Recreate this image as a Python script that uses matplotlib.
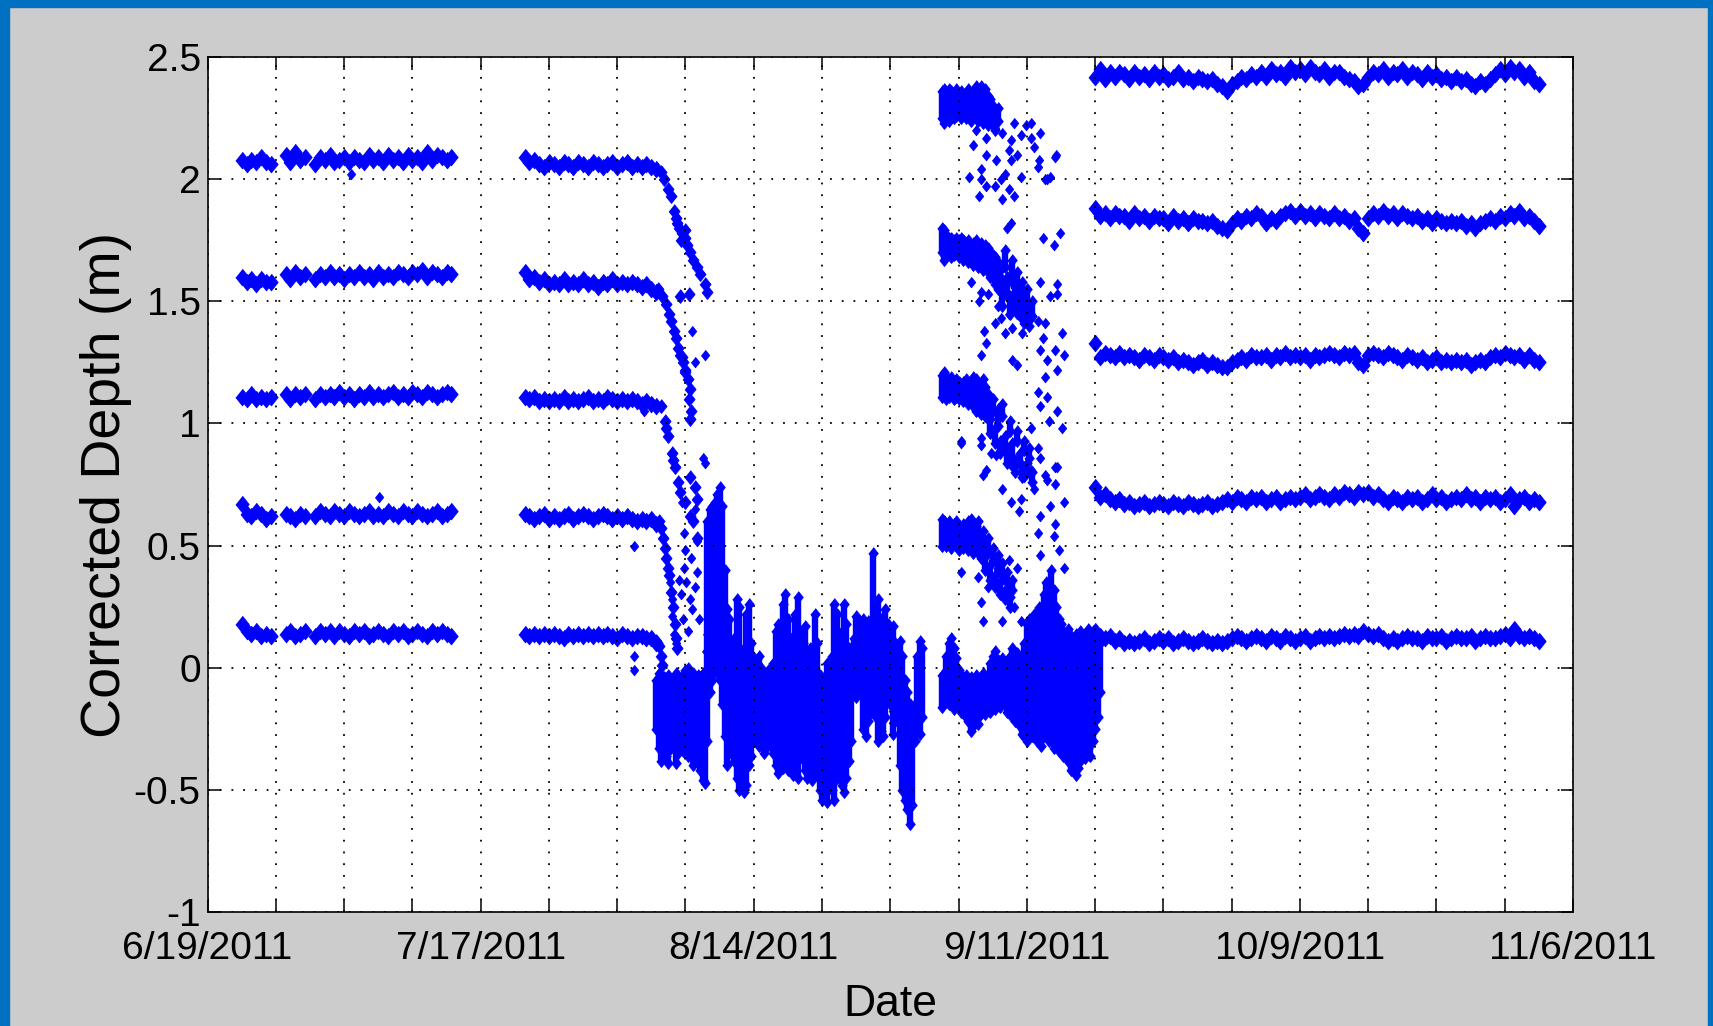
import numpy as np
import matplotlib
matplotlib.use("Agg")
import matplotlib.pyplot as plt
from matplotlib import font_manager as fm
from matplotlib.patches import Rectangle
from matplotlib.ticker import FixedLocator, FixedFormatter, MultipleLocator

# ------------------------------------------------------------------
# DATA  (x = days since 6/19/2011, y = corrected depth in m)
# ------------------------------------------------------------------
xtick_days = [0, 28, 56, 84, 112, 140]
xtick_labels = ["6/19/2011", "7/17/2011", "8/14/2011", "9/11/2011", "10/9/2011", "11/6/2011"]
ytick_vals = [-1, -0.5, 0, 0.5, 1, 1.5, 2, 2.5]
ytick_labels = ["-1", "-0.5", "0", "0.5", "1", "1.5", "2", "2.5"]

# Segment 1 (sensor string, late June - mid July), half-day samples
s1_days = np.concatenate([np.arange(3.5, 6.51, 0.5), np.arange(8.0, 10.01, 0.5),
                          np.arange(11.0, 25.01, 0.5)])
s1_b1 = [2.08, 2.06, 2.08, 2.07, 2.09, 2.07, 2.06, 2.10, 2.07, 2.11, 2.08, 2.09,
         2.06, 2.09, 2.08, 2.10, 2.07, 2.08, 2.09, 2.07, 2.09, 2.08, 2.07, 2.10, 2.08, 2.09,
         2.07, 2.10, 2.08, 2.09, 2.07, 2.10, 2.08, 2.09, 2.07, 2.11, 2.08, 2.10, 2.09, 2.08, 2.09]
s1_b2 = [1.60, 1.58, 1.59, 1.57, 1.59, 1.58, 1.58, 1.61, 1.59, 1.62, 1.60, 1.61,
         1.59, 1.61, 1.60, 1.62, 1.60, 1.61, 1.59, 1.61, 1.60, 1.62, 1.60, 1.61, 1.59, 1.62,
         1.60, 1.61, 1.60, 1.62, 1.61, 1.60, 1.62, 1.61, 1.63, 1.60, 1.62, 1.61, 1.60, 1.62, 1.61]
s1_b3 = [1.11, 1.10, 1.12, 1.10, 1.11, 1.10, 1.11, 1.12, 1.10, 1.12, 1.11, 1.12,
         1.10, 1.12, 1.11, 1.12, 1.11, 1.13, 1.11, 1.12, 1.10, 1.12, 1.11, 1.13, 1.11, 1.12,
         1.11, 1.12, 1.13, 1.11, 1.12, 1.11, 1.13, 1.12, 1.11, 1.13, 1.12, 1.11, 1.12, 1.13, 1.12]
s1_b4 = [0.67, 0.63, 0.62, 0.64, 0.63, 0.61, 0.62, 0.63, 0.62, 0.61, 0.63, 0.62,
         0.62, 0.64, 0.63, 0.62, 0.64, 0.63, 0.62, 0.64, 0.63, 0.62, 0.63, 0.64, 0.62, 0.63,
         0.62, 0.64, 0.63, 0.62, 0.64, 0.63, 0.62, 0.64, 0.63, 0.62, 0.63, 0.64, 0.62, 0.63, 0.64]
s1_b5 = [0.18, 0.15, 0.14, 0.15, 0.13, 0.14, 0.13, 0.14, 0.15, 0.13, 0.14, 0.15,
         0.13, 0.15, 0.14, 0.15, 0.13, 0.15, 0.14, 0.13, 0.15, 0.14, 0.15, 0.13, 0.14, 0.15,
         0.14, 0.13, 0.15, 0.14, 0.15, 0.13, 0.14, 0.15, 0.14, 0.13, 0.15, 0.14, 0.15, 0.14, 0.13]

# Segment 2 (late July - early August, flat part), half-day samples
s2_days = np.arange(32.5, 46.01, 0.5)
s2_b1 = [2.09, 2.07, 2.08, 2.06, 2.05, 2.07, 2.06, 2.05, 2.07, 2.06, 2.05, 2.07, 2.06, 2.05,
         2.07, 2.06, 2.05, 2.06, 2.07, 2.05, 2.06, 2.07, 2.05, 2.06, 2.05, 2.06, 2.05, 2.04]
s2_b2 = [1.62, 1.59, 1.60, 1.58, 1.59, 1.57, 1.58, 1.57, 1.59, 1.57, 1.58, 1.57, 1.59, 1.57,
         1.58, 1.56, 1.58, 1.57, 1.59, 1.57, 1.58, 1.57, 1.58, 1.57, 1.56, 1.57, 1.55, 1.54]
s2_b3 = [1.11, 1.10, 1.11, 1.09, 1.10, 1.09, 1.10, 1.09, 1.11, 1.09, 1.10, 1.09, 1.10, 1.11,
         1.09, 1.10, 1.09, 1.11, 1.10, 1.09, 1.10, 1.09, 1.10, 1.09, 1.08, 1.09, 1.08, 1.07]
s2_b4 = [0.63, 0.62, 0.61, 0.62, 0.63, 0.61, 0.62, 0.61, 0.62, 0.63, 0.61, 0.62, 0.63, 0.62,
         0.61, 0.62, 0.63, 0.62, 0.61, 0.62, 0.61, 0.62, 0.61, 0.60, 0.61, 0.60, 0.61, 0.59]
s2_b5 = [0.14, 0.13, 0.14, 0.13, 0.14, 0.13, 0.14, 0.13, 0.12, 0.14, 0.13, 0.14, 0.13, 0.14,
         0.13, 0.14, 0.13, 0.14, 0.13, 0.12, 0.14, 0.13, 0.12, 0.13, 0.13, 0.12, 0.12, 0.10]

# Collapse of the sensor string: band readings during the drop (mid August)
drop_days = [46.5, 46.8, 47.2, 47.5, 47.8, 48.0, 48.3, 48.6, 48.9, 49.2, 49.5, 49.8, 50.2, 50.5,
             51.0, 51.2, 49.4, 48.4, 48.1, 48.5, 49.0,
             46.2, 46.6, 47.0, 47.3, 47.5, 47.8, 48.0, 48.2, 48.4, 48.7, 49.0, 49.3, 49.5, 49.4,
             49.6, 49.5, 48.6, 48.9,
             46.5, 46.9, 47.2, 47.6, 47.9, 48.2, 48.4, 49.0, 49.5, 50.0, 50.2, 49.5, 49.8, 50.2,
             47.0, 47.7,
             46.3, 46.7, 47.0, 47.3, 47.5, 47.7, 47.9, 48.0, 48.1, 46.5, 46.9, 47.2,
             46.0, 46.3, 46.5, 46.6]
drop_vals = [2.03, 2.00, 1.96, 1.93, 1.87, 1.84, 1.80, 1.78, 1.76, 1.73, 1.70, 1.67, 1.64, 1.61,
             1.57, 1.54, 1.53, 1.52, 1.82, 1.75, 1.79,
             1.55, 1.52, 1.49, 1.45, 1.42, 1.38, 1.35, 1.31, 1.28, 1.25, 1.22, 1.18, 1.14, 1.10,
             1.05, 1.02, 1.27, 1.21,
             1.07, 1.01, 0.95, 0.88, 0.82, 0.76, 0.72, 0.68, 0.78, 0.74, 0.69, 0.62, 0.60, 0.53,
             0.98, 0.85,
             0.60, 0.53, 0.45, 0.38, 0.31, 0.25, 0.18, 0.12, 0.08, 0.57, 0.49, 0.41,
             0.11, 0.09, 0.05, 0.01]

# Isolated readings (outliers and scattered points around the collapse)
odd_days = [14.7, 17.6, 43.7, 43.7, 43.7, 44.7, 49.7, 51.0, 50.0, 50.8, 51.0,
            48.6, 48.8, 49.0, 48.8, 49.1, 49.5, 49.7, 50.0, 50.2, 50.2, 47.4, 47.6, 47.6, 47.8,
            48.0, 48.3, 51.2, 51.1, 48.5, 49.6, 50.0, 48.7, 49.3, 50.4]
odd_vals = [2.02, 0.70, 0.50, 0.05, -0.01, 1.05, 1.38, 1.28, 1.25, 0.86, 0.84,
            0.68, 0.55, 0.48, 0.41, 0.35, 0.28, 0.24, 0.65, 0.52, 0.39, 0.35, 0.28, 0.21, 0.14,
            0.10, 0.36, 0.14, 0.07, 0.30, 0.45, 0.33, 0.20, 0.15, 0.20]

# Buried sensors, mid August - early September: per quarter-day range (low, high)
mess_days = np.arange(46.0, 73.26, 0.25)
mess_hi = [-0.05, -0.02, -0.08, -0.04, -0.06, -0.03, -0.07, -0.05, -0.02, -0.05, -0.06, -0.03,
           -0.01, 0.00, -0.04, -0.02, -0.05, -0.03, -0.04, -0.02, -0.03, 0.60, 0.65, 0.66,
           0.68, 0.71, 0.74, 0.66, 0.40, 0.24, 0.20, 0.10, 0.12, 0.28, 0.25, 0.05,
           0.08, 0.22, 0.26, 0.10, 0.04, 0.02, 0.05, 0.00, -0.02, -0.03, -0.01, -0.04,
           0.02, 0.15, 0.18, 0.10, 0.26, 0.30, 0.20, 0.12, 0.08, 0.22, 0.29, 0.15,
           0.10, 0.17, 0.05, 0.08, 0.00, 0.22, 0.10, -0.03, -0.05, -0.04, 0.02, -0.02,
           0.05, 0.26, 0.22, 0.10, 0.15, 0.26, 0.18, 0.08, 0.05, 0.12, 0.21, 0.18,
           0.15, 0.20, 0.16, 0.19, 0.12, 0.47, 0.24, 0.28, 0.20, 0.15, 0.24, 0.18,
           0.12, 0.17, 0.10, 0.05, 0.11, 0.05, -0.05, -0.10, -0.15, -0.20, -0.15, 0.05,
           0.11, 0.08]
mess_lo = [-0.25, -0.33, -0.38, -0.30, -0.36, -0.39, -0.33, -0.28, -0.39, -0.35, -0.30, -0.34,
           -0.31, -0.36, -0.33, -0.40, -0.37, -0.33, -0.42, -0.46, -0.47, -0.30, -0.10, -0.05,
           0.00, -0.02, -0.05, -0.15, -0.28, -0.40, -0.35, -0.30, -0.38, -0.45, -0.50, -0.45,
           -0.51, -0.48, -0.40, -0.36, -0.30, -0.28, -0.32, -0.30, -0.35, -0.33, -0.30, -0.28,
           -0.35, -0.40, -0.43, -0.38, -0.41, -0.36, -0.42, -0.38, -0.44, -0.40, -0.45, -0.37,
           -0.32, -0.42, -0.45, -0.40, -0.46, -0.38, -0.44, -0.50, -0.54, -0.52, -0.55, -0.48,
           -0.50, -0.54, -0.45, -0.40, -0.48, -0.51, -0.45, -0.38, -0.30, -0.10, -0.12, -0.05,
           -0.10, -0.25, -0.28, -0.22, -0.18, -0.15, -0.20, -0.30, -0.26, -0.28, -0.20, -0.10,
           -0.15, -0.27, -0.22, -0.18, -0.40, -0.50, -0.54, -0.58, -0.64, -0.56, -0.30, -0.25,
           -0.27, -0.20]

# Re-deployed sensors, September: quarter-day ranges per sensor
s3a_days = np.arange(75.25, 81.01, 0.25)
s3a_lo = [2.25, 2.23, 2.26, 2.24, 2.27, 2.25, 2.26, 2.27, 2.25, 2.27, 2.25, 2.26,
          2.24, 2.27, 2.25, 2.24, 2.26, 2.23, 2.25, 2.22, 2.24, 2.22, 2.20, 2.24]
s3a_hi = [2.36, 2.37, 2.35, 2.37, 2.36, 2.35, 2.37, 2.34, 2.36, 2.35, 2.34, 2.37,
          2.35, 2.36, 2.38, 2.37, 2.38, 2.35, 2.37, 2.34, 2.33, 2.30, 2.28, 2.29]
s3b_days = np.arange(75.25, 84.51, 0.25)
s3b_lo = [1.70, 1.67, 1.69, 1.70, 1.68, 1.69, 1.70, 1.68, 1.69, 1.67, 1.68, 1.66, 1.68, 1.65,
          1.67, 1.64, 1.66, 1.63, 1.65, 1.62, 1.60, 1.61, 1.57,
          1.55, 1.60, 1.48, 1.64, 1.52, 1.45, 1.58, 1.47, 1.55, 1.44, 1.50, 1.41, 1.47, 1.40, 1.44]
s3b_hi = [1.80, 1.79, 1.77, 1.76, 1.76, 1.75, 1.76, 1.75, 1.76, 1.75, 1.74, 1.75, 1.73, 1.74,
          1.75, 1.73, 1.74, 1.72, 1.73, 1.72, 1.70, 1.69, 1.68,
          1.66, 1.63, 1.58, 1.71, 1.60, 1.52, 1.67, 1.56, 1.62, 1.53, 1.58, 1.48, 1.55, 1.45, 1.50]
s3c_days = np.arange(75.25, 84.51, 0.25)
s3c_lo = [1.11, 1.12, 1.10, 1.11, 1.12, 1.10, 1.11, 1.10, 1.11, 1.09, 1.10, 1.08, 1.10, 1.07,
          1.05, 1.07, 1.04, 1.06, 1.03,
          1.02, 0.96, 1.05, 0.92, 0.99, 0.88, 1.03, 0.90, 0.84, 0.97, 0.86, 0.80, 0.93, 0.84,
          0.78, 0.89, 0.80, 0.86, 0.76]
s3c_hi = [1.20, 1.21, 1.19, 1.18, 1.19, 1.17, 1.18, 1.17, 1.16, 1.17, 1.18, 1.16, 1.17, 1.19,
          1.18, 1.17, 1.16, 1.18, 1.15,
          1.12, 1.02, 1.10, 0.98, 1.06, 0.93, 1.08, 0.95, 0.90, 1.01, 0.92, 0.85, 0.97, 0.88,
          0.82, 0.93, 0.84, 0.90, 0.80]
s3d_days = np.arange(75.25, 82.51, 0.25)
s3d_lo = [0.50, 0.52, 0.50, 0.51, 0.49, 0.52, 0.50, 0.48, 0.50, 0.49, 0.51, 0.48, 0.50, 0.47,
          0.49, 0.47,
          0.45, 0.50, 0.40, 0.47, 0.36, 0.44, 0.33, 0.41, 0.30, 0.38, 0.28, 0.35, 0.25, 0.32]
s3d_hi = [0.61, 0.60, 0.59, 0.60, 0.58, 0.59, 0.60, 0.58, 0.57, 0.59, 0.58, 0.60, 0.61, 0.59,
          0.58, 0.60,
          0.52, 0.56, 0.46, 0.53, 0.42, 0.49, 0.38, 0.46, 0.35, 0.43, 0.32, 0.39, 0.29, 0.36]
s3e_days = np.arange(75.25, 83.76, 0.25)
s3e_lo = [-0.16, -0.14, -0.12, -0.15, -0.13, -0.17, -0.14, -0.16, -0.18, -0.15, -0.20, -0.22,
          -0.26, -0.24, -0.20, -0.23, -0.19, -0.17, -0.19, -0.16, -0.18, -0.15, -0.17, -0.14,
          -0.16, -0.13, -0.15, -0.18, -0.16, -0.20, -0.22, -0.20, -0.24, -0.27, -0.28]
s3e_hi = [-0.03, -0.02, 0.05, 0.10, 0.12, 0.08, 0.04, -0.01, -0.03, -0.04, -0.03, -0.05,
          -0.04, -0.06, -0.03, -0.05, -0.04, -0.02, -0.05, -0.03, 0.02, 0.05, 0.07, 0.03,
          0.00, 0.04, 0.02, -0.02, 0.05, 0.08, 0.03, 0.06, 0.02, 0.05, 0.10]
s3f_days = np.arange(84.0, 91.51, 0.25)
s3f_lo = [-0.30, -0.25, -0.28, -0.22, -0.30, -0.26, -0.32, -0.28, -0.25, -0.30, -0.27, -0.33,
          -0.29, -0.34, -0.30, -0.36, -0.33, -0.38, -0.42, -0.40, -0.44, -0.41, -0.38, -0.35,
          -0.37, -0.33, -0.36, -0.30, -0.25, -0.20, -0.10]
s3f_hi = [0.18, 0.20, 0.15, 0.22, 0.18, 0.25, 0.20, 0.30, 0.35, 0.28, 0.40, 0.32,
          0.25, 0.20, 0.18, 0.15, 0.12, 0.16, 0.13, 0.10, 0.14, 0.12, 0.15, 0.11,
          0.13, 0.16, 0.12, 0.15, 0.14, 0.12, 0.10]

# Re-deployed sensors, September: scattered individual readings
s3_pts_days = [78.8, 79.8, 80.7, 82.7, 83.9, 81.5, 82.4, 83.4, 84.4, 85.4, 84.7, 82.2, 83.0, 78.5,
               79.8, 80.8, 79.3, 82.4, 81.8, 81.3, 83.4, 85.1, 85.2, 86.9, 85.9, 86.4, 79.3, 78.1,
               79.1, 79.8, 80.7, 81.5, 82.7, 82.2, 84.4, 81.0, 86.1, 87.0,
               78.3, 79.3, 79.1, 80.0, 80.7, 81.0, 81.3, 79.6, 79.8, 82.2, 82.5, 81.8, 83.0, 83.5,
               84.4, 85.1, 85.9, 85.7, 85.4, 86.1, 86.9, 87.6, 87.8, 87.1, 79.3, 82.5, 83.0, 85.4,
               87.1, 87.1, 86.4, 85.7, 86.8, 87.4, 82.0, 82.4,
               85.1, 85.9, 86.1, 87.1, 87.6, 85.4, 86.3, 84.4, 77.3, 79.3, 80.3, 82.4, 79.5, 84.4,
               86.1, 86.9,
               77.3, 79.3, 79.8, 80.8, 81.5, 82.4, 83.2, 83.4, 83.7, 85.4, 85.9, 87.1, 86.9, 87.8,
               86.4, 85.4, 84.7, 85.1,
               77.3, 79.0, 80.0, 79.3, 79.5, 82.2, 83.0, 81.0, 80.7, 82.0, 82.7, 81.5, 83.4, 85.1,
               85.4, 86.8, 87.3, 87.8, 86.9]
s3_pts_vals = [2.20, 2.17, 2.21, 2.23, 2.22, 2.19, 2.16, 2.18, 2.17, 2.19, 2.13, 2.12, 2.10, 2.14,
               2.10, 2.08, 2.04, 2.08, 2.02, 2.00, 2.01, 2.05, 2.08, 2.09, 2.00, 2.01, 2.00, 2.01,
               1.93, 1.97, 1.97, 1.92, 1.93, 1.96, 2.23, 2.29, 2.00, 2.10,
               1.58, 1.54, 1.50, 1.53, 1.41, 1.48, 1.43, 1.38, 1.33, 1.45, 1.39, 1.37, 1.45, 1.37,
               1.43, 1.42, 1.41, 1.35, 1.30, 1.26, 1.30, 1.37, 1.28, 1.22, 1.28, 1.26, 1.24, 1.58,
               1.57, 1.53, 1.52, 1.76, 1.73, 1.78, 1.80, 1.82,
               1.13, 1.19, 1.11, 1.05, 0.98, 1.07, 1.01, 0.98, 0.92, 0.94, 0.88, 0.83, 0.79, 0.81,
               0.77, 0.82,
               0.93, 0.91, 0.81, 0.87, 0.73, 0.68, 0.64, 0.69, 0.78, 0.86, 0.79, 0.82, 0.75, 0.68,
               0.66, 0.62, 0.73, 0.90,
               0.39, 0.37, 0.33, 0.27, 0.19, 0.44, 0.41, 0.40, 0.36, 0.32, 0.25, 0.19, 0.19, 0.55,
               0.46, 0.54, 0.48, 0.41, 0.59]

# Segment 4 (mid September - early November), half-day samples
s4_days = np.arange(91.0, 136.51, 0.5)
s4_b1 = [2.42, 2.45, 2.41, 2.44, 2.42, 2.44,
         2.43, 2.41, 2.44, 2.42, 2.43, 2.41, 2.44, 2.42,
         2.43, 2.41, 2.42, 2.44, 2.41, 2.42, 2.40, 2.42,
         2.41, 2.40, 2.41, 2.39, 2.38, 2.36,
         2.39, 2.40, 2.42, 2.41, 2.43, 2.42,
         2.44, 2.42, 2.45, 2.43, 2.44, 2.42, 2.46, 2.44,
         2.45, 2.43, 2.46, 2.44, 2.43, 2.45, 2.42, 2.44,
         2.44, 2.42, 2.41, 2.40, 2.38, 2.39, 2.42, 2.44,
         2.43, 2.45, 2.42, 2.44, 2.43, 2.45, 2.42, 2.44,
         2.43, 2.41, 2.44, 2.42, 2.43, 2.41, 2.42, 2.40,
         2.42, 2.40, 2.41, 2.39, 2.38, 2.40, 2.39, 2.41,
         2.43, 2.45, 2.43, 2.46, 2.44, 2.45, 2.42, 2.44, 2.40, 2.39]
s4_b2 = [1.88, 1.85, 1.86, 1.84, 1.86, 1.85,
         1.85, 1.83, 1.86, 1.84, 1.85, 1.83, 1.85, 1.84,
         1.84, 1.82, 1.85, 1.83, 1.84, 1.82, 1.84, 1.83,
         1.83, 1.82, 1.83, 1.81, 1.80, 1.79,
         1.82, 1.84, 1.83, 1.85, 1.84, 1.86,
         1.85, 1.82, 1.84, 1.83, 1.85, 1.86, 1.87, 1.85,
         1.87, 1.85, 1.86, 1.84, 1.86, 1.85, 1.84, 1.86,
         1.84, 1.85, 1.83, 1.84, 1.80, 1.78, 1.84, 1.86,
         1.85, 1.87, 1.85, 1.86, 1.84, 1.86, 1.85, 1.84,
         1.85, 1.83, 1.84, 1.82, 1.84, 1.83, 1.82, 1.83,
         1.82, 1.83, 1.81, 1.82, 1.80, 1.82, 1.83, 1.84,
         1.83, 1.85, 1.84, 1.86, 1.85, 1.87, 1.84, 1.85, 1.83, 1.81]
s4_b3 = [1.33, 1.27, 1.29, 1.28, 1.27, 1.29,
         1.27, 1.28, 1.27, 1.26, 1.28, 1.27, 1.26, 1.28,
         1.27, 1.26, 1.27, 1.25, 1.26, 1.25, 1.24, 1.25,
         1.26, 1.24, 1.25, 1.24, 1.23, 1.23,
         1.25, 1.26, 1.27, 1.26, 1.28, 1.27,
         1.27, 1.28, 1.26, 1.28, 1.27, 1.29, 1.27, 1.28,
         1.27, 1.28, 1.26, 1.28, 1.27, 1.28, 1.29, 1.28,
         1.27, 1.29, 1.28, 1.29, 1.25, 1.24, 1.28, 1.29,
         1.28, 1.27, 1.29, 1.28, 1.27, 1.26, 1.28, 1.27,
         1.26, 1.27, 1.25, 1.26, 1.27, 1.25, 1.26, 1.25,
         1.26, 1.25, 1.26, 1.24, 1.25, 1.26, 1.25, 1.27,
         1.28, 1.27, 1.29, 1.28, 1.27, 1.28, 1.26, 1.28, 1.26, 1.25]
s4_b4 = [0.74, 0.70, 0.71, 0.69, 0.68, 0.69,
         0.67, 0.68, 0.66, 0.67, 0.68, 0.66, 0.67, 0.68,
         0.67, 0.66, 0.68, 0.67, 0.66, 0.68, 0.67, 0.66,
         0.67, 0.68, 0.66, 0.67, 0.68, 0.69,
         0.68, 0.70, 0.69, 0.68, 0.70, 0.69,
         0.70, 0.68, 0.69, 0.70, 0.68, 0.69, 0.70, 0.69,
         0.70, 0.71, 0.69, 0.70, 0.71, 0.70, 0.69, 0.71,
         0.70, 0.72, 0.71, 0.70, 0.72, 0.71, 0.72, 0.70,
         0.71, 0.69, 0.68, 0.70, 0.69, 0.68, 0.70, 0.69,
         0.70, 0.68, 0.69, 0.71, 0.69, 0.70, 0.68, 0.69,
         0.70, 0.69, 0.71, 0.69, 0.70, 0.68, 0.70, 0.69,
         0.70, 0.68, 0.69, 0.71, 0.66, 0.69, 0.70, 0.68, 0.69, 0.68]
s4_b5 = [0.15, 0.13, 0.12, 0.13, 0.11, 0.12,
         0.10, 0.11, 0.10, 0.11, 0.12, 0.10, 0.11, 0.12,
         0.11, 0.12, 0.10, 0.11, 0.12, 0.11, 0.10, 0.11,
         0.12, 0.11, 0.10, 0.11, 0.10, 0.11,
         0.12, 0.13, 0.12, 0.11, 0.12, 0.13,
         0.12, 0.11, 0.13, 0.12, 0.11, 0.13, 0.12, 0.11,
         0.12, 0.13, 0.11, 0.12, 0.13, 0.12, 0.13, 0.12,
         0.13, 0.14, 0.13, 0.14, 0.13, 0.15, 0.14, 0.13,
         0.14, 0.12, 0.11, 0.12, 0.11, 0.12, 0.13, 0.12,
         0.12, 0.11, 0.13, 0.12, 0.12, 0.13, 0.11, 0.12,
         0.13, 0.12, 0.12, 0.13, 0.11, 0.12, 0.13, 0.12,
         0.12, 0.13, 0.14, 0.12, 0.16, 0.13, 0.12, 0.13, 0.12, 0.11]

# ------------------------------------------------------------------
# FONTS
# ------------------------------------------------------------------
plt.rcParams["axes.unicode_minus"] = False
names = {f.name for f in fm.fontManager.ttflist}
if "Liberation Sans Narrow" in names:
    tick_fp = dict(family="Liberation Sans Narrow", size=32)
    xlab_fp = dict(family="Liberation Sans Narrow", size=38)
else:
    tick_fp = dict(family="Liberation Sans", size=28)
    xlab_fp = dict(family="Liberation Sans", size=32)
ylab_fp = dict(family="Liberation Sans", size=40)

# ------------------------------------------------------------------
# FIGURE
# ------------------------------------------------------------------
W, H = 1713, 1026
fig = plt.figure(figsize=(W / 100, H / 100), dpi=100, facecolor="#cccccc")
border = "#0070c0"
fig.patches.extend([
    Rectangle((0, 0), 9 / W, 1, transform=fig.transFigure, color=border, zorder=-5),
    Rectangle((0, 1 - 7 / H), 1, 7 / H, transform=fig.transFigure, color=border, zorder=-5),
    Rectangle((1 - 5 / W, 0), 5 / W, 1, transform=fig.transFigure, color=border, zorder=-5),
])

ax_l, ax_r, ax_t, ax_b = 207.6, 1573, 57, 912
ax = fig.add_axes([ax_l / W, 1 - ax_b / H, (ax_r - ax_l) / W, (ax_b - ax_t) / H])
ax.set_facecolor("white")

DIAMOND = [(0, 1), (0.8, 0), (0, -1), (-0.8, 0)]
BLUE = "#0000ff"


def dots(x, y, ms=7.6):
    ax.plot(x, y, ls="none", marker=DIAMOND, ms=ms, mfc=BLUE, mec=BLUE, mew=0.6, zorder=2)


def streaks(x, lo, hi):
    ax.vlines(x, lo, hi, colors=BLUE, lw=4.6, zorder=2)
    dots(x, lo, 8.6)
    dots(x, hi, 8.6)


BAND_MS = 12.0
for band in (s1_b1, s1_b2, s1_b3, s1_b4, s1_b5):
    dots(s1_days, band, BAND_MS)
for band in (s2_b1, s2_b2, s2_b3, s2_b4, s2_b5):
    dots(s2_days, band, BAND_MS)
dots(drop_days, drop_vals, 10.0)
dots(odd_days, odd_vals)
streaks(mess_days, mess_lo, mess_hi)
streaks(s3a_days, s3a_lo, s3a_hi)
streaks(s3b_days, s3b_lo, s3b_hi)
streaks(s3c_days, s3c_lo, s3c_hi)
streaks(s3d_days, s3d_lo, s3d_hi)
streaks(s3e_days, s3e_lo, s3e_hi)
streaks(s3f_days, s3f_lo, s3f_hi)
dots(s3_pts_days, s3_pts_vals)
for band in (s4_b1, s4_b2, s4_b3, s4_b4, s4_b5):
    dots(s4_days, band, BAND_MS)

ax.set_xlim(xtick_days[0], xtick_days[-1])
ax.set_ylim(ytick_vals[0], ytick_vals[-1])

ax.xaxis.set_major_locator(FixedLocator(xtick_days))
ax.xaxis.set_major_formatter(FixedFormatter(xtick_labels))
ax.xaxis.set_minor_locator(MultipleLocator(7))
ax.yaxis.set_major_locator(FixedLocator(ytick_vals))
ax.yaxis.set_major_formatter(FixedFormatter(ytick_labels))

ax.tick_params(which="both", direction="in", length=9, width=1.1, color="black",
               top=True, right=True, bottom=True, left=True)
ax.tick_params(axis="x", which="major", pad=14)
ax.tick_params(axis="y", which="major", pad=5)
for lab in ax.get_xticklabels() + ax.get_yticklabels():
    lab.set_fontfamily(tick_fp["family"])
    lab.set_fontsize(tick_fp["size"])
    lab.set_color("black")

grid_style = dict(color="black", linestyle=(0, (1.0, 5.5)), linewidth=1.3)
ax.grid(True, axis="x", which="both", **grid_style)
ax.grid(True, axis="y", which="major", **grid_style)
ax.set_axisbelow(False)
for sp in ax.spines.values():
    sp.set_linewidth(1.2)
    sp.set_color("black")
    sp.set_zorder(5)

ax.set_xlabel("Date", fontfamily=xlab_fp["family"], fontsize=xlab_fp["size"], va="center")
ax.xaxis.set_label_coords(0.5, -(1005 - ax_b) / (ax_b - ax_t))
ax.set_ylabel("Corrected Depth (m)", fontfamily=ylab_fp["family"], fontsize=ylab_fp["size"],
              va="center", ha="center")
ax.yaxis.set_label_coords(-(ax_l - 106) / (ax_r - ax_l), 0.5)

fig.savefig("out.png", dpi=100, facecolor=fig.get_facecolor())
